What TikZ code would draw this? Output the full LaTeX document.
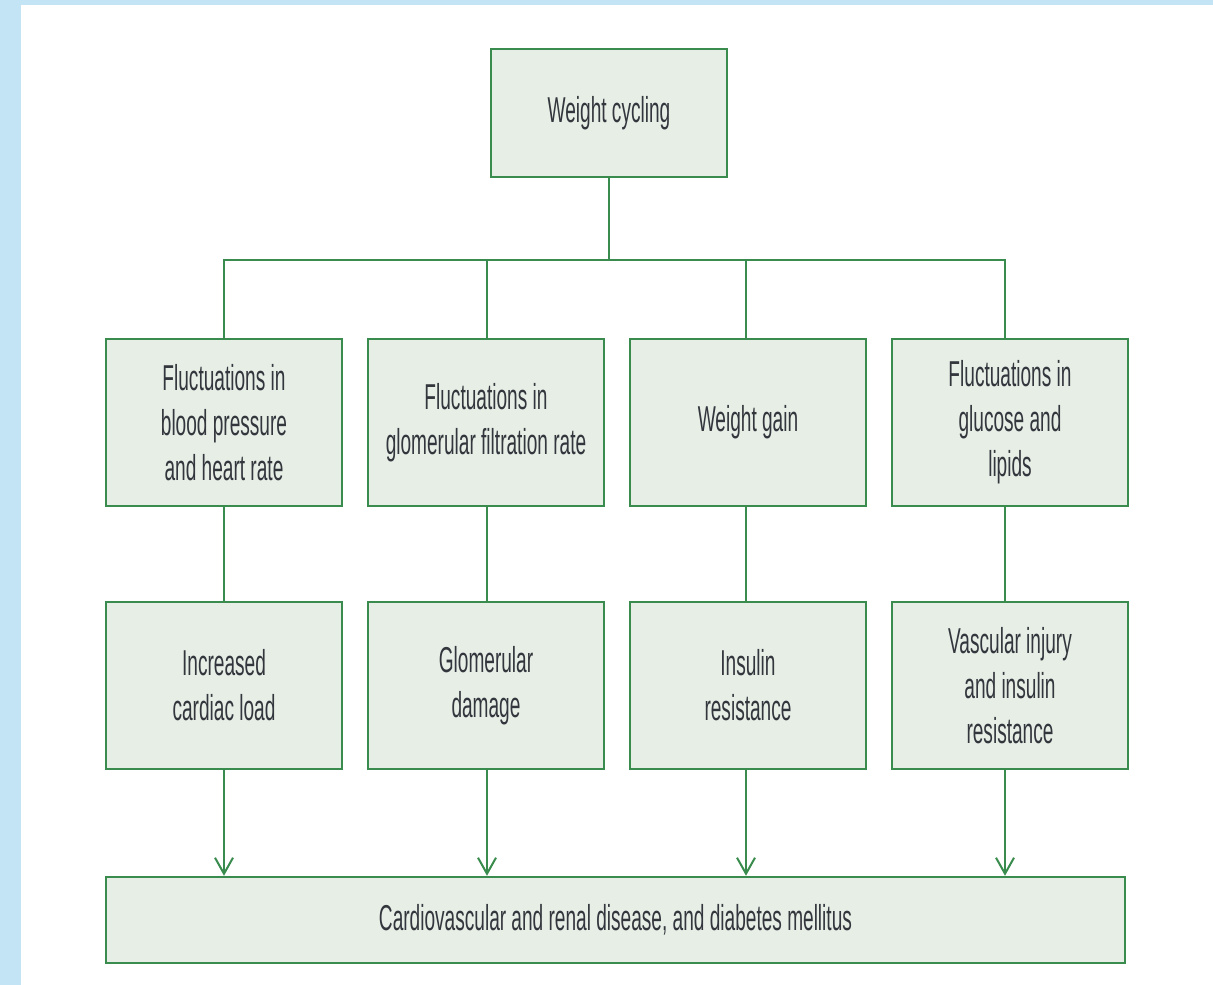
\documentclass[tikz,border=0pt]{standalone}
\usepackage{fontspec}
\newfontfamily\condfont{Liberation Sans}[FakeStretch=0.53]
\usetikzlibrary{arrows.meta}
\definecolor{boxfill}{HTML}{E6EEE6}
\definecolor{boxline}{HTML}{3A8C4E}
\definecolor{txt}{HTML}{33363C}
\definecolor{strip}{HTML}{C3E4F4}
\tikzset{
  box/.style={draw=boxline, line width=2.5pt, fill=boxfill, minimum width=236pt, minimum height=167pt,
    align=center, inner sep=0pt, text=txt, font=\condfont\fontsize{36}{45}\selectfont},
  conn/.style={draw=boxline, line width=2pt},
  arr/.style={conn, -{Straight Barb[length=16pt, width=18pt, line width=2pt]}}
}
\begin{document}
\begin{tikzpicture}[x=1pt, y=-1pt]
\useasboundingbox (0,0) rectangle (1213,985);
\fill[white] (0,0) rectangle (1213,985);
\fill[strip] (0,0) rectangle (1213,5);
\fill[strip] (0,0) rectangle (21,985);

\node[box, minimum height=128pt] (top) at (609,113) {Weight cycling};

\node[box] (a1) at (224,422.5) {Fluctuations in\\blood pressure\\and heart rate};
\node[box] (b1) at (486,422.5) {Fluctuations in\\glomerular filtration rate};
\node[box] (c1) at (748,422.5) {Weight gain};
\node[box] (d1) at (1010,422.5) {Fluctuations in\\glucose and\\lipids};

\node[box] (a2) at (224,685.5) {Increased\\cardiac load};
\node[box] (b2) at (486,685.5) {Glomerular\\damage};
\node[box] (c2) at (748,685.5) {Insulin\\resistance};
\node[box] (d2) at (1010,685.5) {Vascular injury\\and insulin\\resistance};

\node[box, minimum width=1019pt, minimum height=86pt] (bot) at (615.5,920) {Cardiovascular and renal disease, and diabetes mellitus};

\coordinate (j) at (609,260);
\draw[conn] (top.south) -- (j);
\foreach \n/\dx in {a/0,b/1,c/-2,d/-5}{
  \draw[conn] (j) -| ([xshift=\dx pt]\n1.north);
  \draw[conn] ([xshift=\dx pt]\n1.south) -- ([xshift=\dx pt]\n2.north);
  \draw[arr] ([xshift=\dx pt]\n2.south) -- ([xshift=\dx pt]\n2.south |- bot.north);
}
\end{tikzpicture}
\end{document}
